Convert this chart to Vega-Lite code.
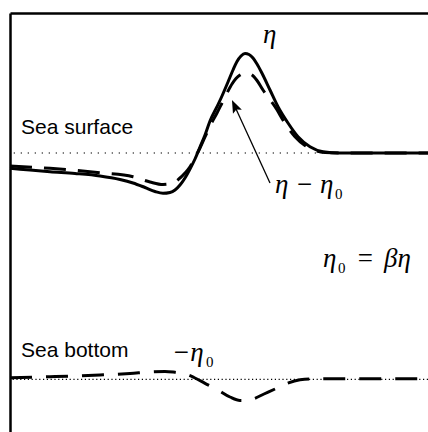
{
  "$schema": "https://vega.github.io/schema/vega-lite/v6.json",
  "width": 418,
  "height": 419,
  "autosize": {"type": "none"},
  "padding": {"left": 10, "top": 13, "right": 0, "bottom": 0},
  "background": "white",
  "config": {
    "view": {"stroke": null},
    "axis": {"labels": false, "ticks": false, "grid": false, "title": null, "domainColor": "black", "domainWidth": 2.5}
  },
  "datasets": {
    "levels": [
      {"level": "surface", "y": 0},
      {"level": "bottom", "y": -226.3}
    ],
    "curves": [
      {"series": "eta", "x": 0, "y": -15.3},
      {"series": "eta", "x": 20, "y": -17},
      {"series": "eta", "x": 40, "y": -18.7},
      {"series": "eta", "x": 65, "y": -20.5},
      {"series": "eta", "x": 90, "y": -23},
      {"series": "eta", "x": 110, "y": -26.5},
      {"series": "eta", "x": 123, "y": -30},
      {"series": "eta", "x": 135, "y": -34.5},
      {"series": "eta", "x": 145, "y": -38.5},
      {"series": "eta", "x": 153, "y": -40.3},
      {"series": "eta", "x": 160, "y": -39.5},
      {"series": "eta", "x": 165, "y": -37},
      {"series": "eta", "x": 170, "y": -32},
      {"series": "eta", "x": 175, "y": -25},
      {"series": "eta", "x": 180, "y": -16},
      {"series": "eta", "x": 185, "y": -6},
      {"series": "eta", "x": 190, "y": 6},
      {"series": "eta", "x": 195, "y": 18},
      {"series": "eta", "x": 200, "y": 32},
      {"series": "eta", "x": 207, "y": 46.3},
      {"series": "eta", "x": 212, "y": 57},
      {"series": "eta", "x": 218, "y": 71},
      {"series": "eta", "x": 223, "y": 83},
      {"series": "eta", "x": 227, "y": 91.5},
      {"series": "eta", "x": 231, "y": 97},
      {"series": "eta", "x": 235, "y": 99.5},
      {"series": "eta", "x": 239, "y": 98.5},
      {"series": "eta", "x": 243, "y": 95},
      {"series": "eta", "x": 247, "y": 89},
      {"series": "eta", "x": 252, "y": 79.7},
      {"series": "eta", "x": 260, "y": 63},
      {"series": "eta", "x": 268, "y": 46.3},
      {"series": "eta", "x": 278, "y": 30},
      {"series": "eta", "x": 288, "y": 16.3},
      {"series": "eta", "x": 300, "y": 6.3},
      {"series": "eta", "x": 313, "y": 1.3},
      {"series": "eta", "x": 330, "y": 0},
      {"series": "eta", "x": 418, "y": 0},
      {"series": "eta_minus_eta0", "x": 0, "y": -13},
      {"series": "eta_minus_eta0", "x": 40, "y": -15.3},
      {"series": "eta_minus_eta0", "x": 90, "y": -19.7},
      {"series": "eta_minus_eta0", "x": 123, "y": -23.7},
      {"series": "eta_minus_eta0", "x": 140, "y": -29},
      {"series": "eta_minus_eta0", "x": 153, "y": -31.5},
      {"series": "eta_minus_eta0", "x": 162, "y": -30.5},
      {"series": "eta_minus_eta0", "x": 170, "y": -25},
      {"series": "eta_minus_eta0", "x": 175, "y": -20},
      {"series": "eta_minus_eta0", "x": 180, "y": -13.7},
      {"series": "eta_minus_eta0", "x": 185, "y": -4.5},
      {"series": "eta_minus_eta0", "x": 190, "y": 5},
      {"series": "eta_minus_eta0", "x": 195, "y": 16},
      {"series": "eta_minus_eta0", "x": 200, "y": 27},
      {"series": "eta_minus_eta0", "x": 207, "y": 40},
      {"series": "eta_minus_eta0", "x": 212, "y": 50},
      {"series": "eta_minus_eta0", "x": 217, "y": 60},
      {"series": "eta_minus_eta0", "x": 222, "y": 69},
      {"series": "eta_minus_eta0", "x": 226, "y": 74.5},
      {"series": "eta_minus_eta0", "x": 230, "y": 78},
      {"series": "eta_minus_eta0", "x": 236, "y": 80},
      {"series": "eta_minus_eta0", "x": 242, "y": 78},
      {"series": "eta_minus_eta0", "x": 247, "y": 72.5},
      {"series": "eta_minus_eta0", "x": 253, "y": 63},
      {"series": "eta_minus_eta0", "x": 259, "y": 54.5},
      {"series": "eta_minus_eta0", "x": 265, "y": 46.3},
      {"series": "eta_minus_eta0", "x": 275, "y": 29.7},
      {"series": "eta_minus_eta0", "x": 285, "y": 16.3},
      {"series": "eta_minus_eta0", "x": 295, "y": 7.5},
      {"series": "eta_minus_eta0", "x": 305, "y": 2.5},
      {"series": "eta_minus_eta0", "x": 315, "y": 0.5},
      {"series": "eta_minus_eta0", "x": 330, "y": 0},
      {"series": "eta_minus_eta0", "x": 418, "y": 0},
      {"series": "minus_eta0", "x": 0, "y": -224.7},
      {"series": "minus_eta0", "x": 40, "y": -223.7},
      {"series": "minus_eta0", "x": 90, "y": -222},
      {"series": "minus_eta0", "x": 120, "y": -220.5},
      {"series": "minus_eta0", "x": 140, "y": -219},
      {"series": "minus_eta0", "x": 155, "y": -218.5},
      {"series": "minus_eta0", "x": 165, "y": -219.3},
      {"series": "minus_eta0", "x": 173, "y": -220.3},
      {"series": "minus_eta0", "x": 184, "y": -224.5},
      {"series": "minus_eta0", "x": 195, "y": -230.3},
      {"series": "minus_eta0", "x": 208, "y": -237},
      {"series": "minus_eta0", "x": 220, "y": -244},
      {"series": "minus_eta0", "x": 230, "y": -247.5},
      {"series": "minus_eta0", "x": 237, "y": -247.5},
      {"series": "minus_eta0", "x": 243, "y": -246},
      {"series": "minus_eta0", "x": 254, "y": -241},
      {"series": "minus_eta0", "x": 265, "y": -236},
      {"series": "minus_eta0", "x": 277, "y": -230.5},
      {"series": "minus_eta0", "x": 290, "y": -226.8},
      {"series": "minus_eta0", "x": 303, "y": -225.8},
      {"series": "minus_eta0", "x": 418, "y": -225.8}
    ],
    "arrow": [
      {"x": 260, "y": -30, "x2": 224.9, "y2": 46.6}
    ],
    "labels": [
      {"kind": "sans", "text": "Sea surface", "x": 11, "y": 19},
      {"kind": "sans", "text": "Sea bottom", "x": 11, "y": -204},
      {"kind": "math", "text": "η", "x": 253, "y": 110},
      {"kind": "math", "text": "η − η", "x": 265, "y": -40},
      {"kind": "sub", "text": "0", "x": 325, "y": -46},
      {"kind": "math", "text": "η", "x": 313, "y": -114},
      {"kind": "sub", "text": "0", "x": 328, "y": -120},
      {"kind": "math", "text": "=", "x": 346, "y": -114},
      {"kind": "math", "text": "βη", "x": 374, "y": -114},
      {"kind": "math", "text": "−η", "x": 162, "y": -208},
      {"kind": "sub", "text": "0", "x": 196, "y": -214}
    ]
  },
  "layer": [
    {
      "data": {"name": "levels"},
      "transform": [{"filter": "datum.level === 'surface'"}],
      "mark": {"type": "rule", "color": "black", "strokeWidth": 1.2, "strokeDash": [1.3, 5.7]},
      "encoding": {
        "y": {"field": "y", "type": "quantitative", "scale": {"domain": [-279, 140], "nice": false, "zero": false}, "axis": {"orient": "left"}}
      }
    },
    {
      "data": {"name": "levels"},
      "transform": [{"filter": "datum.level === 'bottom'"}],
      "mark": {"type": "rule", "color": "black", "strokeWidth": 1.2, "strokeDash": [1.2, 2.6]},
      "encoding": {
        "y": {"field": "y", "type": "quantitative"}
      }
    },
    {
      "data": {"name": "curves"},
      "transform": [{"filter": "datum.series === 'eta'"}],
      "mark": {"type": "line", "color": "black", "strokeWidth": 3, "interpolate": "monotone"},
      "encoding": {
        "x": {"field": "x", "type": "quantitative", "scale": {"domain": [0, 418], "nice": false, "zero": false}, "axis": {"orient": "top"}},
        "y": {"field": "y", "type": "quantitative"}
      }
    },
    {
      "data": {"name": "curves"},
      "transform": [{"filter": "datum.series === 'eta_minus_eta0'"}],
      "mark": {"type": "line", "color": "black", "strokeWidth": 3, "interpolate": "monotone", "strokeDash": [22, 12]},
      "encoding": {
        "x": {"field": "x", "type": "quantitative"},
        "y": {"field": "y", "type": "quantitative"}
      }
    },
    {
      "data": {"name": "curves"},
      "transform": [{"filter": "datum.series === 'minus_eta0'"}],
      "mark": {"type": "line", "color": "black", "strokeWidth": 3, "interpolate": "monotone", "strokeDash": [22, 14]},
      "encoding": {
        "x": {"field": "x", "type": "quantitative"},
        "y": {"field": "y", "type": "quantitative"}
      }
    },
    {
      "data": {"name": "arrow"},
      "mark": {"type": "rule", "color": "black", "strokeWidth": 1.3},
      "encoding": {
        "x": {"field": "x", "type": "quantitative"},
        "y": {"field": "y", "type": "quantitative"},
        "x2": {"field": "x2"},
        "y2": {"field": "y2"}
      }
    },
    {
      "data": {"name": "arrow"},
      "mark": {"type": "point", "shape": "M0,-1L0.7,0.85L0,0.5L-0.7,0.85Z", "filled": true, "color": "black", "opacity": 1, "size": 196, "angle": 335},
      "encoding": {
        "x": {"field": "x2", "type": "quantitative"},
        "y": {"field": "y2", "type": "quantitative"}
      }
    },
    {
      "data": {"name": "labels"},
      "transform": [{"filter": "datum.kind === 'sans'"}],
      "mark": {"type": "text", "font": "Liberation Sans", "fontSize": 21, "align": "left", "baseline": "alphabetic", "color": "black"},
      "encoding": {
        "x": {"field": "x", "type": "quantitative"},
        "y": {"field": "y", "type": "quantitative"},
        "text": {"field": "text"}
      }
    },
    {
      "data": {"name": "labels"},
      "transform": [{"filter": "datum.kind === 'math'"}],
      "mark": {"type": "text", "font": "Liberation Serif", "fontStyle": "italic", "fontSize": 27, "align": "left", "baseline": "alphabetic", "color": "black"},
      "encoding": {
        "x": {"field": "x", "type": "quantitative"},
        "y": {"field": "y", "type": "quantitative"},
        "text": {"field": "text"}
      }
    },
    {
      "data": {"name": "labels"},
      "transform": [{"filter": "datum.kind === 'sub'"}],
      "mark": {"type": "text", "font": "Liberation Serif", "fontSize": 15, "align": "left", "baseline": "alphabetic", "color": "black"},
      "encoding": {
        "x": {"field": "x", "type": "quantitative"},
        "y": {"field": "y", "type": "quantitative"},
        "text": {"field": "text"}
      }
    }
  ]
}
